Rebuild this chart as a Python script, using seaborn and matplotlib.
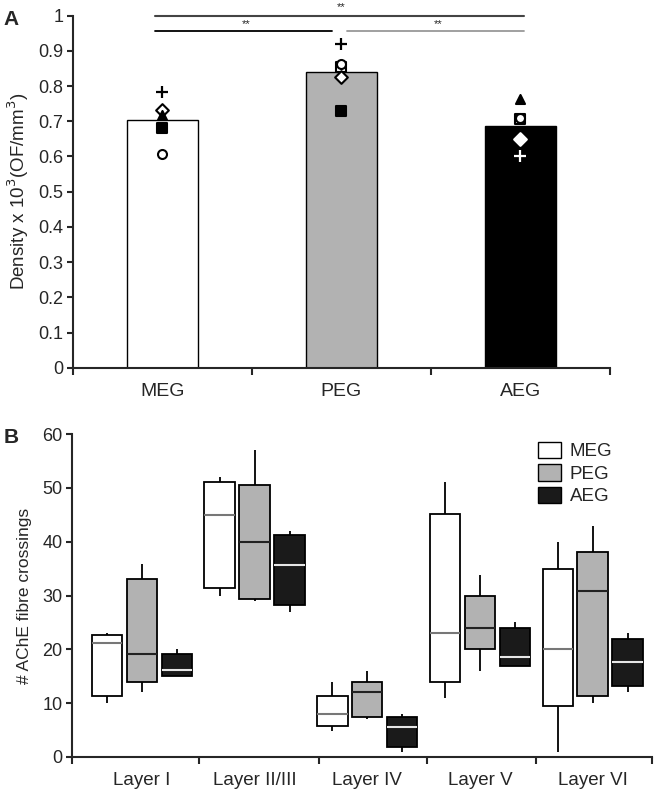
import numpy             as np
import pandas            as pd
import seaborn           as sns
import matplotlib.pyplot as plt
from matplotlib.patches  import Patch

sns.set_style('ticks')
plt.rcParams['font.family'] = ['Liberation Sans', 'DejaVu Sans']

# ---- panel A data ----
groups     = ['MEG', 'PEG', 'AEG']
bar_means  = [0.705, 0.839, 0.687]
bar_colors = ['#ffffff', '#b2b2b2', '#000000']

# individual animals: (group, value, marker, face, edge)
pt_group  = ['MEG', 'MEG', 'MEG', 'MEG', 'MEG',
             'PEG', 'PEG', 'PEG', 'PEG', 'PEG',
             'AEG', 'AEG', 'AEG', 'AEG', 'AEG']
pt_value  = [0.784, 0.733, 0.718, 0.680, 0.606,
             0.920, 0.853, 0.864, 0.827, 0.729,
             0.763, 0.706, 0.710, 0.649, 0.601]
pt_marker = ['+', 'D', '^', 's', 'o',
             '+', 's', 'o', 'D', 's',
             '^', 's', 'o', 'D', '+']
pt_face   = ['k', 'w', 'k', 'k', 'w',
             'k', 'w', 'w', 'w', 'k',
             'k', 'w', 'w', 'w', 'w']
pt_edge   = ['k', 'k', 'k', 'k', 'k',
             'k', 'k', 'k', 'k', 'k',
             'k', 'k', 'k', 'w', 'w']

# ---- panel B data: whisker low, q1, median, q3, whisker high ----
layers = ['Layer I', 'Layer II/III', 'Layer IV', 'Layer V', 'Layer VI']
meg_stats = [[10, 11.4, 21.1, 22.7, 23],
             [30, 31.4, 45.0, 51.0, 52],
             [4.9, 5.8, 7.9, 11.4, 13.9],
             [11, 14.0, 23.0, 45.1, 51],
             [0.9, 9.4, 20.0, 35.0, 40]]
peg_stats = [[12, 14.0, 19.1, 33.0, 35.9],
             [29, 29.4, 40.0, 50.6, 57],
             [7, 7.5, 12.0, 14.0, 16],
             [16, 20.0, 24.0, 29.9, 33.9],
             [10, 11.4, 30.9, 38.0, 43]]
aeg_stats = [[15, 15.1, 16.1, 19.1, 20],
             [26.9, 28.3, 35.7, 41.2, 41.9],
             [0.9, 1.8, 5.5, 7.5, 7.9],
             [16.9, 16.9, 18.5, 23.9, 25.1],
             [12, 13.2, 17.6, 21.9, 23.1]]
box_colors    = ['#ffffff', '#b2b2b2', '#1a1a1a']
median_colors = ['#777777', '#222222', '#e6e6e6']

rows = []
for g, stats in zip(groups, [meg_stats, peg_stats, aeg_stats]):
    for layer, vals in zip(layers, stats):
        for v in vals:
            rows.append({'layer': layer, 'group': g, 'count': v})
df_b = pd.DataFrame(rows)

fig = plt.figure(figsize=(6.55, 7.92), dpi=100)
ax1 = fig.add_axes([0.1115, 0.5357, 0.8195, 0.4445])
ax2 = fig.add_axes([0.110, 0.0442, 0.886, 0.4078])

# ---- panel A ----
sns.barplot(x=groups, y=bar_means, hue=groups, order=groups, palette=bar_colors,
            width=0.4, edgecolor='black', linewidth=1, saturation=1,
            legend=False, ax=ax1)
for g, v, m, fc, ec in zip(pt_group, pt_value, pt_marker, pt_face, pt_edge):
    xi = groups.index(g)
    if m == '+':
        ax1.scatter(xi, v, marker='+', s=70, color=ec, linewidths=1.6, zorder=4)
    else:
        ax1.scatter(xi, v, marker=m, s=42, facecolor=fc, edgecolor=ec,
                    linewidths=1.5, zorder=4)

ax1.set_xlim(-0.5, 2.5)
ax1.set_ylim(0, 1)
ax1.set_yticks(np.arange(0, 1.01, 0.1))
ax1.set_yticklabels(['0', '0.1', '0.2', '0.3', '0.4', '0.5', '0.6', '0.7', '0.8', '0.9', '1'])
ax1.set_xticks([0, 1, 2])
ax1.set_xticklabels(groups)
ax1.set_xticks([-0.5, 0.5, 1.5, 2.5], minor=True)
ax1.tick_params(axis='x', which='major', length=0, pad=11, labelsize=14)
ax1.tick_params(axis='x', which='minor', length=5, width=1.5, direction='out')
ax1.tick_params(axis='y', length=4, width=1.5, labelsize=13, pad=3)
ax1.set_xlabel('')
ax1.set_ylabel('Density x 10$^3$(OF/mm$^3$)', fontsize=13.5, labelpad=5)
for s in ['left', 'bottom']:
    ax1.spines[s].set_linewidth(1.5)
sns.despine(ax=ax1)

# significance bars
ax1.plot([-0.04, 2.02], [1.0, 1.0], color='#444444', lw=1.5, clip_on=False)
ax1.plot([-0.04, 0.95], [0.956, 0.956], color='black', lw=1.3, clip_on=False)
ax1.plot([1.03, 2.02], [0.956, 0.956], color='#999999', lw=1.3, clip_on=False)
ax1.text(1.0, 1.01, '**', ha='center', va='bottom', fontsize=8, clip_on=False)
ax1.text(0.47, 0.962, '**', ha='center', va='bottom', fontsize=8)
ax1.text(1.54, 0.962, '**', ha='center', va='bottom', fontsize=8)

# ---- panel B ----
sns.boxplot(data=df_b, x='layer', y='count', hue='group', order=layers,
            hue_order=groups, palette=box_colors, saturation=1,
            whis=(0, 100), width=0.93, gap=0.13, showcaps=False,
            linecolor='black', linewidth=1.3, legend=False, ax=ax2)
for cont, mc in zip(ax2.containers, median_colors):
    for med in cont.medians:
        med.set_color(mc)
        med.set_linewidth(1.5)

ax2.set_xlim(-0.62, 4.53)
ax2.set_ylim(0, 60)
ax2.set_yticks(np.arange(0, 61, 10))
ax2.set_xticks(range(len(layers)))
ax2.set_xticklabels(layers)
ax2.set_xticks([-0.62, 0.51, 1.57, 2.53, 3.5, 4.53], minor=True)
ax2.tick_params(axis='x', which='major', length=0, pad=11, labelsize=13.5)
ax2.tick_params(axis='x', which='minor', length=5, width=1.5, direction='out')
ax2.tick_params(axis='y', length=4, width=1.5, labelsize=13, pad=3)
ax2.set_xlabel('')
ax2.set_ylabel('# AChE fibre crossings', fontsize=12.5, labelpad=7)
for s in ['left', 'bottom']:
    ax2.spines[s].set_linewidth(1.5)
sns.despine(ax=ax2)

handles = [Patch(facecolor=c, edgecolor='black', linewidth=1) for c in box_colors]
ax2.legend(handles, groups, loc='upper left', bbox_to_anchor=(0.79, 1.0),
           frameon=False, fontsize=13.5, handlelength=1.2, handleheight=1.0,
           labelspacing=0.2, handletextpad=0.5, borderaxespad=0)

fig.text(0.005, 0.975, 'A', fontsize=15, fontweight='bold', va='center')
fig.text(0.005, 0.448, 'B', fontsize=15, fontweight='bold', va='center')

fig.savefig('out.png', dpi=100)
